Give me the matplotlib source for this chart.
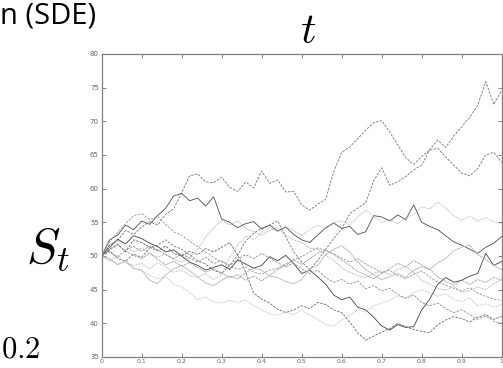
import matplotlib
matplotlib.use('Agg')
import matplotlib.pyplot as plt
import numpy as np

# time grid, step 0.02
t = np.linspace(0, 1, 51)

# sample paths S_t
path1 = [50.0, 50.8, 49.6, 49.2, 50.3, 49.8, 51.2, 51.6, 52.4, 51.5, 51.0, 50.2, 49.3, 48.8, 47.9, 47.4,
         48.6, 50.1, 52.2, 53.4, 54.1, 54.6, 55.2, 52.9, 50.6, 49.1, 48.0, 49.3, 51.0, 52.6, 54.0, 56.3,
         57.1, 57.9, 61.2, 63.1, 60.5, 61.0, 61.8, 62.8, 63.5, 65.8, 67.2, 66.1, 67.8, 69.2, 70.6, 72.4,
         75.9, 72.5, 74.6]
path2 = [50.0, 51.6, 52.3, 53.8, 53.2, 54.3, 55.1, 54.6, 56.2, 57.0, 59.4, 61.9, 62.2, 61.0, 60.9, 61.7,
         60.2, 59.6, 61.0, 60.1, 62.6, 60.8, 61.3, 59.5, 59.6, 57.6, 56.8, 57.7, 58.4, 62.5, 65.4, 66.2,
         67.4, 68.7, 69.8, 70.1, 68.4, 66.5, 64.6, 63.6, 64.8, 65.7, 66.0, 64.7, 63.5, 62.3, 61.9, 63.0,
         65.0, 65.4, 63.9]
path3 = [50.0, 52.4, 53.1, 54.6, 53.9, 55.2, 54.7, 56.0, 57.1, 58.9, 59.3, 58.2, 58.6, 57.4, 58.8, 55.5,
         55.0, 54.2, 54.8, 55.1, 54.0, 54.6, 53.7, 54.3, 53.2, 52.4, 52.0, 53.1, 54.2, 54.9, 54.1, 54.4,
         53.2, 53.6, 56.0, 55.8, 55.2, 56.1, 55.4, 57.6, 55.0, 54.4, 53.9, 53.0, 52.1, 51.6, 51.0, 50.4,
         51.3, 51.9, 52.9]
path4 = [50.0, 49.2, 50.1, 49.0, 48.6, 48.9, 48.1, 49.0, 48.4, 47.6, 47.9, 47.1, 46.8, 47.4, 46.5, 47.2,
         49.8, 51.6, 53.0, 52.4, 53.5, 54.2, 53.6, 54.4, 53.8, 53.1, 53.9, 54.6, 54.0, 54.9, 55.2, 54.6,
         55.8, 56.8, 55.9, 55.0, 55.4, 54.8, 55.6, 56.2, 57.3, 57.0, 58.0, 57.1, 56.0, 55.3, 55.9, 55.2,
         55.7, 55.1, 54.8]
path5 = [50.0, 51.3, 52.5, 51.8, 53.0, 52.6, 51.9, 51.4, 50.6, 50.9, 50.0, 49.1, 48.6, 47.9, 48.3, 48.7,
         48.0, 49.4, 48.8, 48.2, 48.6, 49.9, 49.3, 50.1, 48.9, 47.4, 47.9, 46.9, 45.8, 44.2, 43.5, 43.9,
         42.4, 42.0, 40.9, 39.6, 39.0, 39.8, 39.4, 39.5, 42.0, 43.6, 45.8, 46.8, 46.1, 46.4, 47.0, 47.4,
         50.4, 48.6, 49.2]
path6 = [50.0, 51.0, 51.8, 50.6, 52.4, 52.0, 51.3, 50.8, 51.5, 50.4, 50.0, 50.7, 50.2, 51.1, 50.6, 51.3,
         52.0, 50.2, 47.6, 44.5, 43.6, 43.0, 42.1, 41.6, 42.0, 42.6, 42.2, 43.1, 42.8, 42.0, 41.6, 40.2,
         38.6, 37.5, 38.1, 38.7, 39.2, 40.0, 39.5, 39.1, 38.8, 38.6, 39.8, 40.5, 41.0, 40.7, 40.2, 40.9,
         41.3, 40.6, 41.0]
path7 = [50.0, 49.4, 48.8, 49.2, 48.1, 47.8, 47.2, 46.6, 46.9, 45.8, 45.4, 44.6, 43.5, 43.9, 43.2, 43.0,
         43.4, 43.1, 43.5, 42.6, 42.0, 41.4, 41.2, 41.6, 41.3, 42.0, 41.2, 40.6, 39.8, 39.6, 40.5, 41.2,
         42.0, 41.7, 42.6, 43.0, 43.4, 44.1, 43.7, 44.6, 45.0, 44.5, 44.0, 44.4, 43.5, 43.2, 43.8, 42.6,
         42.9, 42.4, 42.8]
path8 = [50.0, 49.6, 48.7, 49.3, 48.2, 47.9, 46.4, 45.9, 47.2, 48.1, 48.6, 47.8, 46.9, 46.0, 45.6, 46.4,
         47.0, 46.6, 47.5, 48.2, 47.9, 47.0, 46.8, 46.2, 45.9, 46.5, 48.1, 48.6, 50.2, 51.0, 51.5, 50.6,
         49.1, 48.0, 47.2, 46.5, 46.9, 47.4, 46.8, 47.9, 48.4, 48.0, 49.0, 49.6, 50.8, 51.3, 51.6, 50.2,
         49.5, 48.6, 48.0]
path9 = [50.0, 50.9, 51.6, 50.8, 50.1, 49.6, 50.4, 49.5, 48.7, 49.2, 48.5, 49.0, 48.3, 47.6, 48.1, 47.5,
         46.8, 47.2, 46.4, 47.0, 46.3, 47.1, 48.0, 48.6, 49.4, 48.8, 49.6, 50.4, 50.9, 50.2, 49.4, 48.6,
         47.7, 47.2, 46.6, 47.4, 48.1, 48.9, 48.4, 49.3, 48.7, 48.0, 46.9, 46.2, 45.7, 46.4, 45.8, 46.5,
         46.1, 46.8, 46.4]
path10 = [50.0, 50.6, 49.8, 50.9, 51.4, 50.7, 51.5, 50.9, 50.2, 49.6, 50.3, 49.7, 49.1, 49.8, 48.9, 49.3,
          48.6, 49.5, 50.2, 49.6, 50.4, 49.7, 49.0, 48.4, 48.9, 48.1, 47.4, 47.9, 46.8, 46.1, 46.5, 45.8,
          46.3, 45.1, 45.6, 44.8, 45.2, 44.3, 43.7, 44.2, 43.1, 42.6, 43.0, 42.2, 41.6, 42.0, 41.3, 40.6,
          41.1, 40.3, 40.0]
path11 = [50.0, 51.7, 52.3, 51.4, 50.6, 51.2, 50.4, 49.8, 50.3, 49.5, 49.1, 49.8, 51.0, 52.8, 54.2, 55.3,
          54.6, 55.2, 54.1, 53.6, 53.1, 53.8, 54.2, 53.0, 52.4, 52.0, 51.2, 51.0, 50.1, 49.4, 48.2, 47.6,
          47.1, 46.8, 47.4, 47.8, 47.2, 48.0, 48.4, 47.6, 46.4, 45.8, 45.2, 44.9, 45.5, 44.6, 44.9, 45.4,
          45.0, 45.9, 46.5]
path12 = [50.0, 52.1, 53.5, 54.8, 56.0, 56.3, 55.4, 55.9, 54.7, 53.6, 53.1, 52.2, 51.4, 50.6, 49.8, 49.1,
          48.5, 48.0, 48.4, 47.6, 47.3, 47.9, 48.2, 48.8, 49.5, 49.9, 50.6, 51.2, 50.8, 50.3, 49.7, 49.1,
          49.6, 48.8, 48.2, 47.5, 47.9, 47.1, 46.6, 47.3, 47.8, 46.9, 46.1, 45.7, 45.2, 44.8, 45.3, 44.5,
          44.0, 43.6, 43.4]

paths = [path1, path2, path3, path4, path5, path6, path7, path8, path9, path10, path11, path12]
greys = ['0.45', '0.45', '0.3', '0.65', '0.25', '0.4', '0.7', '0.72', '0.45', '0.55', '0.6', '0.6']
styles = ['--', '--', '-', ':', '-', '--', ':', '-', ':', '--', ':', '--']

yticks = [35, 40, 45, 50, 55, 60, 65, 70, 75, 80]
xticks = [0, 0.1, 0.2, 0.3, 0.4, 0.5, 0.6, 0.7, 0.8, 0.9, 1]
xticklabels = ['0', '0.1', '0.2', '0.3', '0.4', '0.5', '0.6', '0.7', '0.8', '0.9', '1']


def main():
    plt.rcParams['mathtext.fontset'] = 'cm'
    fig = plt.figure(figsize=(5.03, 3.68), dpi=100)
    ax = fig.add_axes([0.202, 0.0299, 0.7955, 0.8234])

    for p, c, ls in zip(paths, greys, styles):
        if ls == '--':
            ax.plot(t, p, color=c, linewidth=0.6, dashes=(3, 1.5))
        elif ls == ':':
            ax.plot(t, p, color=c, linewidth=0.6, dashes=(1, 1))
        else:
            ax.plot(t, p, color=c, linewidth=0.6)

    ax.set_xlim(0, 1)
    ax.set_ylim(35, 80)
    ax.set_yticks(yticks)
    ax.set_xticks(xticks)
    ax.set_xticklabels(xticklabels)
    ax.tick_params(direction='in', top=True, right=True, length=3, width=0.6,
                   colors='0.45', labelsize=5, labelcolor='0.4', pad=2)
    ax.tick_params(axis='x', labelsize=4.5, pad=1.5)
    for s in ax.spines.values():
        s.set_color('0.5')
        s.set_linewidth(0.9)

    # slide text around the chart
    fig.text(0.0, (368 - 24) / 368, 'n (SDE)', family='Open Sans', fontsize=21, ha='left', va='baseline')
    fig.text(308 / 503, (368 - 43) / 368, '$t$', fontsize=31, ha='center', va='baseline')
    fig.text(26 / 503, (368 - 262) / 368, '$S_t$', fontsize=36, ha='left', va='baseline')
    fig.text(1 / 503, (368 - 358) / 368, '$0.2$', fontsize=22, ha='left', va='baseline')

    fig.savefig('out.png', dpi=100)


if __name__ == '__main__':
    main()
